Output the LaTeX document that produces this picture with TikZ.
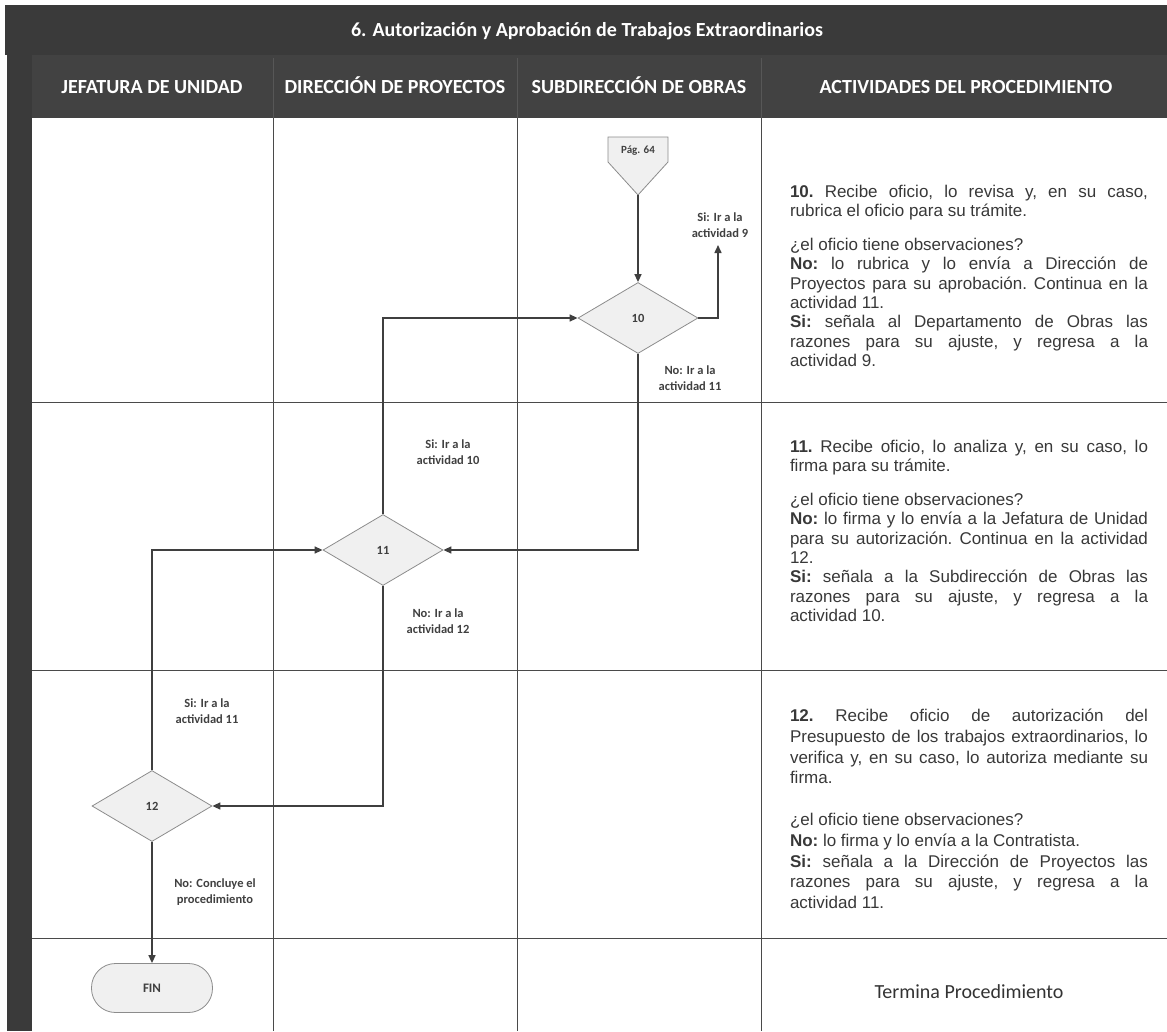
\documentclass[tikz,border=0pt]{standalone}
\usepackage{fontspec}
\setmainfont{Liberation Sans}
\newfontfamily\carlito{Carlito}
\usetikzlibrary{shapes.geometric,arrows.meta}
\definecolor{hdr}{HTML}{3A3A3A}
\definecolor{hdrb}{HTML}{424242}
\definecolor{hsep}{HTML}{575757}
\definecolor{ln}{HTML}{4A4A4A}
\definecolor{arrc}{HTML}{3F3F3F}
\begin{document}
\begin{tikzpicture}[x=1pt,y=-1pt,
 conn/.style={draw=arrc, line width=1.5pt, -{Triangle[length=8pt,width=7pt]}},
 dec/.style={diamond, draw=black!45, line width=0.8pt, fill=black!6, minimum width=120pt, minimum height=71pt, inner sep=0pt, font=\carlito\bfseries\fontsize{12.5}{14}\selectfont, text=black!75},
 lbl/.style={font=\carlito\bfseries\fontsize{12.5}{16.5}\selectfont, text=black!75, align=center, inner sep=0pt},
 para/.style={text width=358pt, align=justify, inner sep=0pt, font=\fontsize{17}{19.4}\selectfont\frenchspacing, text=black!78},
 hd/.style={font=\carlito\bfseries\fontsize{20}{24}\selectfont, text=white, text height=14pt, text depth=4pt, inner sep=0pt},
 gridln/.style={draw=ln, line width=1pt},
 term/.style={draw=black!45, line width=0.8pt, fill=black!6, rounded corners=24pt, minimum width=121pt, minimum height=49pt, font=\carlito\bfseries\fontsize{13}{15}\selectfont, text=black!75}
]
\useasboundingbox (0,0) rectangle (1167,1031);
% header bars
\fill[hdr] (5,5) rectangle (1167,55);
\fill[hdrb] (7,55) rectangle (1167,118);
\fill[hdr] (7,55) rectangle (32,1031);
\foreach \xx in {273,517,761} \draw[hsep, line width=1pt] (\xx,58) -- (\xx,118);
\node[hd] (title) at (587,31) {6. Autorización y Aprobación de Trabajos Extraordinarios};
\node[hd] (h1) at (152,88) {JEFATURA DE UNIDAD};
\node[hd] (h2) at (395,88) {DIRECCIÓN DE PROYECTOS};
\node[hd] (h3) at (639,88) {SUBDIRECCIÓN DE OBRAS};
\node[hd] (h4) at (966,88) {ACTIVIDADES DEL PROCEDIMIENTO};
% grid
\foreach \xx in {273,517,761} \draw[gridln] (\xx,118) -- (\xx,1031);
\foreach \yy in {402,670,938} \draw[gridln] (32,\yy) -- (1167,\yy);
% off-page connector
\draw[draw=black!45, fill=black!6, line width=0.8pt] (608,137) -- (668,137) -- (668,162) -- (638,195) -- (608,162) -- cycle;
\node[lbl, font=\carlito\bfseries\fontsize{11}{13}\selectfont] (pag) at (638,151) {Pág. 64};
\coordinate (pagtip) at (638,195);
% decisions
\node[dec] (d10) at (638,318) {10};
\node[dec] (d11) at (383,550) {11};
\node[dec] (d12) at (152,806) {12};
\node[term] (fin) at (152,988) {FIN};
% connectors
\coordinate (s9) at (718,245);
\draw[conn] (pagtip) -- (d10.north);
\draw[conn] (d10.east) -| (s9);
\draw[conn] (d10.south) |- (d11.east);
\draw[conn] (d11.north) |- (d10.west);
\draw[conn] (d12.north) |- (d11.west);
\draw[conn] (d11.south) |- (d12.east);
\draw[conn] (d12.south) -- (fin.north);
% labels
\node[lbl] (l9) at (720,225) {Si: Ir a la\\actividad 9};
\node[lbl] (l11a) at (690,378) {No: Ir a la\\actividad 11};
\node[lbl] (l10) at (448,452) {Si: Ir a la\\actividad 10};
\node[lbl] (l12a) at (438,621) {No: Ir a la\\actividad 12};
\node[lbl] (l11b) at (207,711) {Si: Ir a la\\actividad 11};
\node[lbl] (lfin) at (215,892) {No: Concluye el\\procedimiento};
% activity texts
\node[para] (p10) at (969,276) {\tolerance=10000\hbadness=10000\parindent=0pt
\textbf{10.} Recibe oficio, lo revisa y, en su caso,\linebreak
rubrica el oficio para su trámite.\par\vspace{14pt}
¿el oficio tiene observaciones?\par
\textbf{No:} lo rubrica y lo envía a Dirección de\linebreak
Proyectos para su aprobación. Continua en la\linebreak
actividad 11.\par
\textbf{Si:} señala al Departamento de Obras las\linebreak
razones para su ajuste, y regresa a la\linebreak
actividad 9.};
\node[para] (p11) at (969,531) {\tolerance=10000\hbadness=10000\parindent=0pt
\textbf{11.} Recibe oficio, lo analiza y, en su caso, lo\linebreak
firma para su trámite.\par\vspace{14pt}
¿el oficio tiene observaciones?\par
\textbf{No:} lo firma y lo envía a la Jefatura de Unidad\linebreak
para su autorización. Continua en la actividad\linebreak
12.\par
\textbf{Si:} señala a la Subdirección de Obras las\linebreak
razones para su ajuste, y regresa a la\linebreak
actividad 10.};
\node[para, font=\fontsize{17}{20.8}\selectfont\frenchspacing] (p12) at (969,809) {\tolerance=10000\hbadness=10000\parindent=0pt
\textbf{12.} Recibe oficio de autorización del\linebreak
Presupuesto de los trabajos extraordinarios, lo\linebreak
verifica y, en su caso, lo autoriza mediante su\linebreak
firma.\par\vspace{20.8pt}
¿el oficio tiene observaciones?\par
\textbf{No:} lo firma y lo envía a la Contratista.\par
\textbf{Si:} señala a la Dirección de Proyectos las\linebreak
razones para su ajuste, y regresa a la\linebreak
actividad 11.};
\node[font=\carlito\fontsize{20}{24}\selectfont, text=black!80] (termina) at (969,992) {Termina Procedimiento};
\end{tikzpicture}
\end{document}
